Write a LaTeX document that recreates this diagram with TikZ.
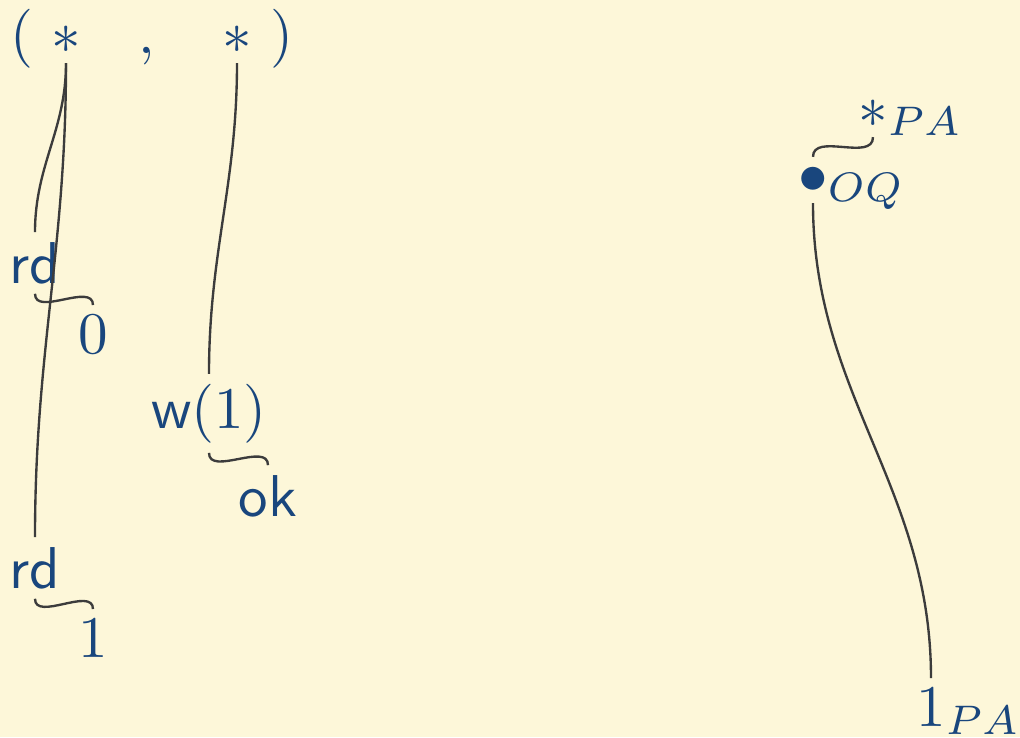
\documentclass[tikz,border=0pt]{standalone}
\usepackage{amsmath}
\usepackage{tikz}
\definecolor{paper}{RGB}{253,247,217}
\definecolor{ink}{RGB}{25,70,125}
\definecolor{linegray}{RGB}{60,60,60}

\begin{document}
\begin{tikzpicture}[x=0.1695pt, y=-0.1695pt,
  every node/.style={text=ink, inner sep=1.5pt, anchor=base},
  link/.style={draw=linegray, line width=0.4pt}]
  \fill[paper] (0,0) rectangle (1020,737);

  \node (lp) at (22,53) {$($};
  \node (a1) at (66,53) {$*$};
  \node (cm) at (147,53) {$,$};
  \node (a2) at (237,53) {$*$};
  \node (rp) at (282,53) {$)$};

  \node (rd0) at (35,283) {\textsf{rd}};
  \node (v0) at (93,353) {$0$};
  \node (w1) at (209,428) {\textsf{w}$(1)$};
  \node (ok) at (268,516) {\textsf{ok}};
  \node (rd1) at (35,588) {\textsf{rd}};
  \node (v1) at (93,657) {$1$};

  \node (pa) at (873,127) {$*\rlap{\smash{$_{PA}$}}$};
  \node (oq) at (813,193) {$\bullet\rlap{\smash{$_{OQ}$}}$};
  \node (pa1) at (931,726) {$1\rlap{\smash{$_{PA}$}}$};

  \draw[link] (a1.south) to[out=-90, in=90] (rd0.north);
  \draw[link] (a1.south) to[out=-90, in=90] (rd1.north);
  \draw[link] (rd0.south) to[out=-90, in=90] (v0.north);
  \draw[link] (a2.south) to[out=-90, in=90] (w1.north);
  \draw[link] (w1.south) to[out=-90, in=90] (ok.north);
  \draw[link] (rd1.south) to[out=-90, in=90] (v1.north);

  \draw[link] (pa.south) to[out=-90, in=90] (oq.north);
  \draw[link] (oq.south) to[out=-90, in=90] (pa1.north);
\end{tikzpicture}
\end{document}
